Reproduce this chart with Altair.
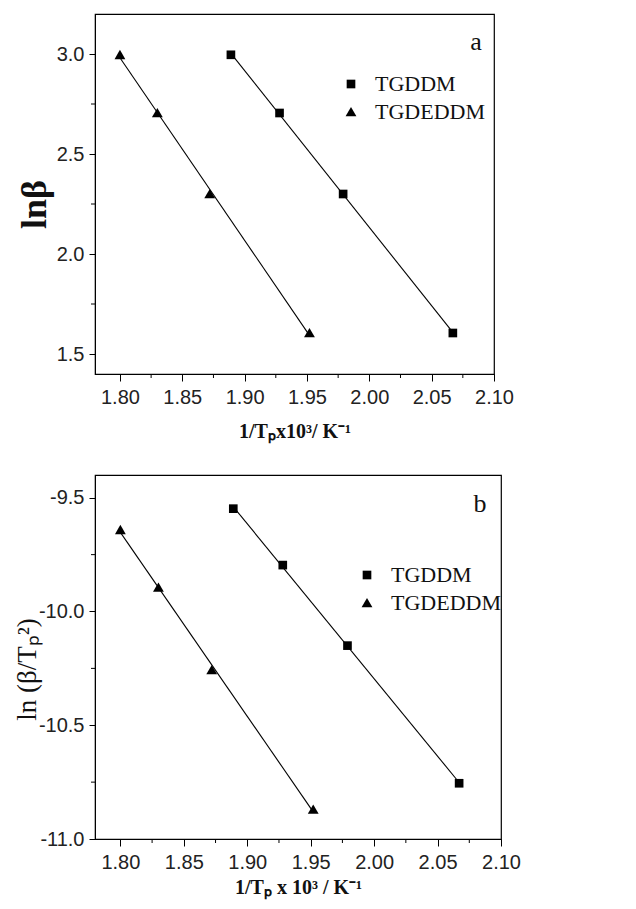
import altair as alt
import pandas as pd

# ---- data ----
series = ["TGDDM", "TGDEDDM"]
x_tgddm = [1.889, 1.928, 1.979, 2.067]
x_tgdeddm = [1.800, 1.830, 1.872, 1.952]
lnb_tgddm = [2.996, 2.705, 2.300, 1.605]
lnb_tgdeddm = [2.996, 2.705, 2.300, 1.605]
lnbt_tgddm = [-9.548, -9.796, -10.150, -10.755]
lnbt_tgdeddm = [-9.641, -9.894, -10.257, -10.870]

x_ticks = [1.80, 1.85, 1.90, 1.95, 2.00, 2.05, 2.10]
x_minor = [1.825, 1.875, 1.925, 1.975, 2.025, 2.075]
ya_ticks = [1.5, 2.0, 2.5, 3.0]
ya_minor = [1.75, 2.25, 2.75]
yb_ticks = [-11.0, -10.5, -10.0, -9.5]
yb_minor = [-10.75, -10.25, -9.75]

SANS = "Liberation Sans"
SERIF = "Liberation Serif"
TRIANGLE = "M0,-1.15L1.25,1L-1.25,1Z"

rows = []
for s, xs, a, b in [(series[0], x_tgddm, lnb_tgddm, lnbt_tgddm),
                    (series[1], x_tgdeddm, lnb_tgdeddm, lnbt_tgdeddm)]:
    for xi, ai, bi in zip(xs, a, b):
        rows.append({"series": s, "x": xi, "a": ai, "b": bi})
df = pd.DataFrame(rows)

MINUS_FIX = "replace(format(datum.value, '.1f'), '\u2212', '-')"


def panel(field, ydomain, yticks, yminor, W, H, xtitle, ytitle, ytitle_size,
          ytitle_weight, ytitle_x, ytitle_y, label, label_xy, leg_xy, xtitle_pad):
    xscale = alt.Scale(domain=[1.78, 2.10], nice=False, zero=False)
    yscale = alt.Scale(domain=ydomain, nice=False, zero=False)
    xax = alt.Axis(values=x_ticks, format=".2f", title=xtitle, grid=False,
                   tickSize=7, labelPadding=6, labelFont=SANS, labelFontSize=20,
                   labelColor="#222", titleFont=SERIF, titleFontSize=20,
                   titleFontWeight="bold", titleColor="#111", titlePadding=xtitle_pad,
                   domainColor="black", tickColor="black", labelFlush=False)
    yax = alt.Axis(values=yticks, labelExpr=MINUS_FIX, title=ytitle, grid=False,
                   tickSize=6, labelPadding=5, labelFont=SANS, labelFontSize=20,
                   labelColor="#222", titleFont=SERIF, titleFontSize=ytitle_size,
                   titleFontWeight=ytitle_weight, titleColor="#111",
                   titleX=ytitle_x, titleY=ytitle_y, titleAngle=270,
                   titleAlign="center", titleBaseline="alphabetic",
                   domainColor="black", tickColor="black", labelFlush=False)
    base = alt.Chart(df)
    lines = base.transform_regression("x", field, groupby=["series"]).mark_line(
        color="black", strokeWidth=1.1
    ).encode(
        x=alt.X("x:Q", scale=xscale, axis=xax),
        y=alt.Y(f"{field}:Q", scale=yscale, axis=yax),
        detail="series:N",
    )
    pts = base.mark_point(filled=True, color="black", opacity=1, size=75).encode(
        x=alt.X("x:Q", scale=xscale, axis=xax),
        y=alt.Y(f"{field}:Q", scale=yscale, axis=yax),
        shape=alt.Shape("series:N",
                        scale=alt.Scale(domain=series, range=["square", TRIANGLE]),
                        legend=alt.Legend(orient="none", legendX=leg_xy[0], legendY=leg_xy[1],
                                          title=None, labelFont=SERIF, labelFontSize=22,
                                          labelColor="#111", symbolSize=75,
                                          symbolFillColor="black", symbolStrokeWidth=0,
                                          rowPadding=6, labelOffset=13, padding=0)),
    )
    xm = alt.Chart(pd.DataFrame({"x": x_minor})).mark_rule(color="black", strokeWidth=1).encode(
        x=alt.X("x:Q", scale=xscale, axis=xax),
        y=alt.value(H), y2=alt.value(H + 4),
    )
    ym = alt.Chart(pd.DataFrame({field: yminor})).mark_rule(color="black", strokeWidth=1).encode(
        y=alt.Y(f"{field}:Q", scale=yscale, axis=yax),
        x=alt.value(0), x2=alt.value(-4),
    )
    txt = alt.Chart(pd.DataFrame({"t": [label]})).mark_text(
        font=SERIF, fontSize=26, color="#111", align="center", baseline="middle"
    ).encode(text="t:N", x=alt.value(label_xy[0]), y=alt.value(label_xy[1]))
    return alt.layer(lines, pts, xm, ym, txt).properties(width=W, height=H)


top = panel("a", [1.4, 3.2], ya_ticks, ya_minor, 399, 360,
            "1/T\u209ax10\u00b3/ K\u207b\u00b9", "ln\u03b2", 36, "bold",
            -50, 190, "a", (381, 28), (245, 59), 14)
bottom = panel("b", [-11.0, -9.4], yb_ticks, yb_minor, 406, 364,
               "1/T\u209a x 10\u00b3 / K\u207b\u00b9", "ln (\u03b2/T\u209a\u00b2)", 27, "normal",
               -60, 194, "b", (385, 29), (261, 89), 5)

chart = alt.vconcat(top, bottom, spacing=32).resolve_scale(
    y="independent", shape="independent"
).resolve_legend(shape="independent").properties(
    padding={"left": 12, "top": 13, "right": 10, "bottom": 5},
    background="white",
).configure_view(stroke="black", strokeWidth=1.2)

chart.save("out.html", embed_options={"renderer": "svg", "actions": False})
